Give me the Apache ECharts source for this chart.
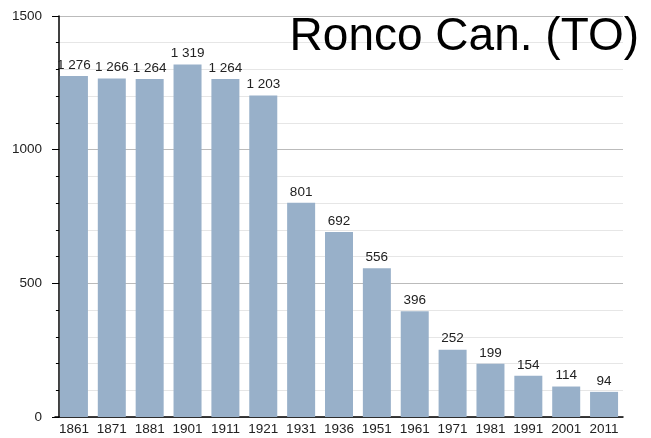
<!DOCTYPE html>
<html><head><meta charset="utf-8">
<script src="https://cdn.jsdelivr.net/npm/echarts@6/dist/echarts.min.js"></script>
<style>html,body{margin:0;padding:0;background:#fff}#c{width:651px;height:438px}</style>
</head><body><div id="c"></div>
<script>
const years = ['1861','1871','1881','1901','1911','1921','1931','1936','1951','1961','1971','1981','1991','2001','2011'];
const population = [1276,1266,1264,1319,1264,1203,801,692,556,396,252,199,154,114,94];
const yTicks = [0,500,1000,1500];
const titleText = 'Ronco Can. (TO)';
const FONT = 'Liberation Sans, Arial, sans-serif';

const chart = echarts.init(document.getElementById('c'), null, {renderer:'canvas'});
chart.setOption({
  animation:false,
  title:{text:titleText, right:7, top:9,
    textStyle:{fontFamily:FONT, fontSize:46, fontWeight:'normal', color:'#000'}},
  grid:{left:55, right:28, top:16, bottom:21, containLabel:false},
  xAxis:{type:'category', data:years,
    axisLine:{lineStyle:{color:'#000', width:1.5}},
    axisTick:{show:false},
    axisLabel:{interval:0, color:'#222', fontSize:13.5, fontFamily:FONT, margin:5}},
  yAxis:{type:'value', min:yTicks[0], max:yTicks[yTicks.length-1], interval:500, offset:-4,
    axisLine:{show:true, lineStyle:{color:'#000', width:1.5}},
    axisTick:{show:true, length:7, lineStyle:{color:'#000'}},
    minorTick:{show:true, splitNumber:5, length:3, lineStyle:{color:'#000'}},
    splitLine:{lineStyle:{color:'#bbbbbb'}},
    minorSplitLine:{show:true, lineStyle:{color:'#e6e6e6'}},
    axisLabel:{color:'#222', fontSize:13.5, fontFamily:FONT, margin:17,
      formatter:v=>String(v)}},
  series:[{type:'bar', data:population, barWidth:28,
    itemStyle:{color:'#98b0c9'},
    label:{show:true, position:'top', distance:4, color:'#222', fontSize:13.5,
      fontFamily:FONT,
      formatter:p=>String(p.value).replace(/\B(?=(\d{3})+(?!\d))/g,' ')}}]
});
</script></body></html>
